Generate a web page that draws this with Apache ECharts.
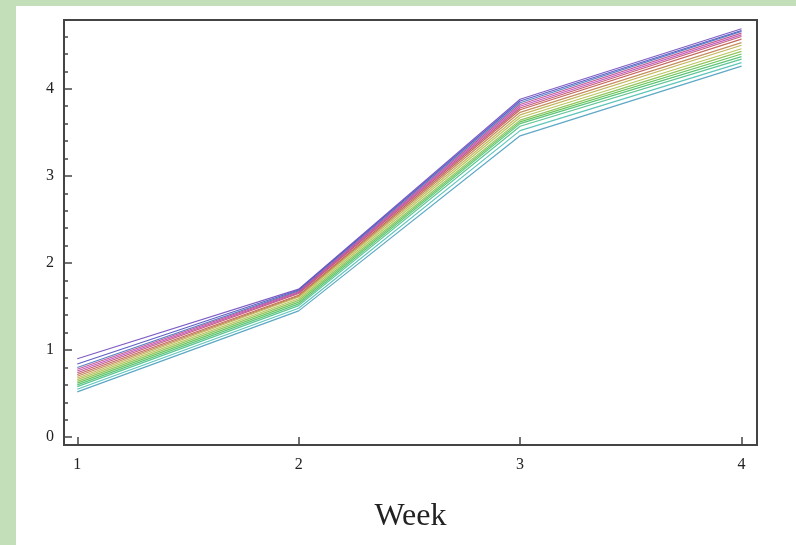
<!DOCTYPE html>
<html><head><meta charset="utf-8">
<script src="https://cdn.jsdelivr.net/npm/echarts@6/dist/echarts.min.js"></script>
<style>
html,body{margin:0;padding:0;background:#c3dfb9;}
#wrap{position:absolute;left:16px;top:6px;right:0;bottom:0;background:#fff;}
#c{position:absolute;left:0;top:0;width:796px;height:545px;}
</style></head>
<body>
<div id="wrap"></div>
<div id="c"></div>
<script>
const weeks = [1, 2, 3, 4];
const xTicks = [1, 2, 3, 4];
const yTicks = [0, 1, 2, 3, 4];
const yMinorTicks = [0.2,0.4,0.6,0.8,1.2,1.4,1.6,1.8,2.2,2.4,2.6,2.8,3.2,3.4,3.6,3.8,4.2,4.4,4.6];
const xLabel = 'Week';

const s01 = [0.90, 1.70, 3.88, 4.69];
const s02 = [0.84, 1.69, 3.86, 4.67];
const s03 = [0.80, 1.68, 3.84, 4.66];
const s04 = [0.78, 1.67, 3.82, 4.64];
const s05 = [0.76, 1.66, 3.80, 4.62];
const s06 = [0.74, 1.65, 3.78, 4.60];
const s07 = [0.72, 1.63, 3.76, 4.57];
const s08 = [0.70, 1.62, 3.73, 4.53];
const s09 = [0.68, 1.61, 3.70, 4.50];
const s10 = [0.66, 1.59, 3.67, 4.46];
const s11 = [0.64, 1.57, 3.64, 4.43];
const s12 = [0.62, 1.55, 3.62, 4.40];
const s13 = [0.60, 1.53, 3.60, 4.37];
const s14 = [0.58, 1.51, 3.57, 4.34];
const s15 = [0.55, 1.48, 3.52, 4.30];
const s16 = [0.52, 1.45, 3.46, 4.26];
const seriesValues = [s01,s02,s03,s04,s05,s06,s07,s08,s09,s10,s11,s12,s13,s14,s15,s16];
const hues = [0.719,0.67,0.609,0.906,0.844,0.953,0.016,0.078,0.141,0.188,0.25,0.313,0.375,0.422,0.484,0.547];

function hsv(h,s,v){
  const i=Math.floor(h*6), f=h*6-i, p=v*(1-s), q=v*(1-f*s), t=v*(1-(1-f)*s);
  let r,g,b;
  switch(i%6){case 0:r=v;g=t;b=p;break;case 1:r=q;g=v;b=p;break;case 2:r=p;g=v;b=t;break;
    case 3:r=p;g=q;b=v;break;case 4:r=t;g=p;b=v;break;default:r=v;g=p;b=q;}
  return 'rgb('+Math.round(r*255)+','+Math.round(g*255)+','+Math.round(b*255)+')';
}

const chart = echarts.init(document.getElementById('c'), null, {renderer:'canvas'});
const font = 'Liberation Serif';
const axisCol = '#444';
chart.setOption({
  animation:false,
  backgroundColor:'transparent',
  grid:{left:64,right:39,top:20,bottom:100,show:true,borderColor:axisCol,borderWidth:2,backgroundColor:'#fff'},
  xAxis:{type:'value',min:0.94,max:4.07,
    name:xLabel,nameLocation:'middle',nameGap:56,
    nameTextStyle:{fontFamily:font,fontSize:32,color:'#222'},
    axisLine:{show:true,onZero:false,lineStyle:{color:axisCol,width:2}},
    axisTick:{show:true,inside:true,length:8,customValues:xTicks,lineStyle:{color:axisCol,width:1.5}},
    axisLabel:{customValues:xTicks,margin:12,fontFamily:font,fontSize:16,color:'#222'},
    splitLine:{show:false}},
  yAxis:[{type:'value',min:-0.09,max:4.79,
    axisLine:{show:true,onZero:false,lineStyle:{color:axisCol,width:2}},
    axisTick:{show:true,inside:true,length:8,customValues:yTicks,lineStyle:{color:axisCol,width:1.5}},
    axisLabel:{customValues:yTicks,margin:10,fontFamily:font,fontSize:16,color:'#222'},
    splitLine:{show:false}},
   {type:'value',min:-0.09,max:4.79,position:'left',
    axisLine:{show:false},
    axisTick:{show:true,inside:true,length:4,customValues:yMinorTicks,lineStyle:{color:axisCol,width:1.5}},
    axisLabel:{show:false},splitLine:{show:false}}],
  series: seriesValues.map((vals,i)=>({
    type:'line',
    data: weeks.map((w,j)=>[w,vals[j]]),
    showSymbol:false,
    lineStyle:{width:1.2,color:hsv(hues[i],0.6,0.75),opacity:0.9},
    itemStyle:{color:hsv(hues[i],0.6,0.75)},
    z: 2
  }))
});
</script>
</body></html>
